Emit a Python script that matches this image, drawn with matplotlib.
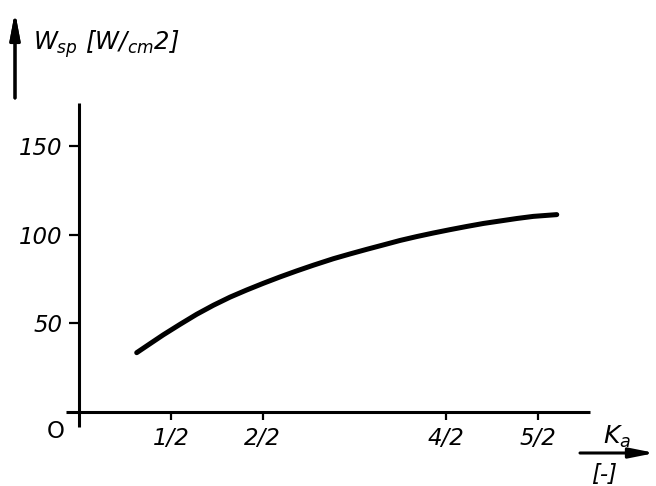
import numpy as np
import matplotlib
matplotlib.use('Agg')
from matplotlib import pyplot as plt

# curve
ka = [0.313, 0.386, 0.458, 0.549, 0.640, 0.731, 0.822, 0.912, 1.003,
      1.094, 1.185, 1.275, 1.385, 1.476, 1.567, 1.658, 1.748, 1.839,
      1.929, 2.020, 2.111, 2.202, 2.293, 2.384, 2.474, 2.602]
w_sp = [33.5, 38.6, 43.6, 49.5, 55.2, 60.3, 64.9, 68.9, 72.7,
        76.3, 79.7, 82.9, 86.6, 89.3, 91.9, 94.4, 96.9, 99.1,
        101.1, 103.0, 104.8, 106.5, 107.9, 109.3, 110.5, 111.5]

x_ticks = [0.5, 1.0, 2.0, 2.5]
x_labels = ['1/2', '2/2', '4/2', '5/2']
y_ticks = [50, 100, 150]
y_labels = ['50', '100', '150']

plt.rcParams['font.family'] = ['DejaVu Sans']
plt.rcParams['font.style'] = 'italic'
plt.rcParams['mathtext.fontset'] = 'dejavusans'

fs = 16.5
lw_axis = 2.2

fig = plt.figure(figsize=(6.56, 4.86), dpi=100)
ax = fig.add_axes([0.0915, 0.0947, 0.8232, 0.6996])
ax.set_xlim(-0.1049, 2.8379)
ax.set_ylim(-15.82, 176.27)
ax.patch.set_alpha(0)

ax.plot(ka, w_sp, color='black', lw=3.6, solid_capstyle='round',
        solid_joinstyle='round')

for s in ['top', 'right']:
    ax.spines[s].set_visible(False)
ax.spines['left'].set_position(('data', 0))
ax.spines['bottom'].set_position(('data', 0))
ax.spines['left'].set_bounds(-8.5, 174.6)
ax.spines['bottom'].set_bounds(-0.072, 2.783)
for s in ['left', 'bottom']:
    ax.spines[s].set_linewidth(lw_axis)
    ax.spines[s].set_capstyle('butt')

ax.set_xticks(x_ticks)
ax.set_xticklabels(x_labels, fontsize=fs, fontstyle='italic')
ax.set_yticks(y_ticks)
ax.set_yticklabels(y_labels, fontsize=fs, fontstyle='italic')
ax.tick_params(axis='x', direction='out', length=6, width=1.6, pad=5)
ax.tick_params(axis='y', direction='out', length=7, width=1.6, pad=5)

# zero at the origin
ax.text(-0.127, -11.3, 'O', fontsize=fs, fontstyle='normal',
        ha='center', va='center', clip_on=False)

# y axis label with arrow
fig.text(33 / 656, 1 - 50 / 486, r'$W_{sp}\ [W/_{cm}2]$', fontsize=17.5,
         ha='left', va='baseline')
fig.add_artist(plt.annotate(
    '', xy=(15 / 656, 1 - 12 / 486), xytext=(15 / 656, 1 - 98 / 486),
    xycoords='figure fraction', textcoords='figure fraction',
    arrowprops=dict(arrowstyle='-|>,head_length=1.6,head_width=0.3',
                    lw=2.2, color='black', shrinkA=0, shrinkB=0)))

# x axis label with arrow
ax.annotate('', xy=(655 / 656, 1 - 453 / 486), xytext=(580 / 656, 1 - 453 / 486),
            xycoords='figure fraction', textcoords='figure fraction',
            arrowprops=dict(arrowstyle='-|>,head_length=1.5,head_width=0.3',
                            lw=2.2, color='black', shrinkA=0, shrinkB=0))
fig.text(603 / 656, 1 - 444 / 486, r'$K_a$', fontsize=18,
         ha='left', va='baseline')
fig.text(604 / 656, 1 - 474 / 486, '[-]', fontsize=fs,
         ha='center', va='center')

fig.savefig('out.png', dpi=100)
